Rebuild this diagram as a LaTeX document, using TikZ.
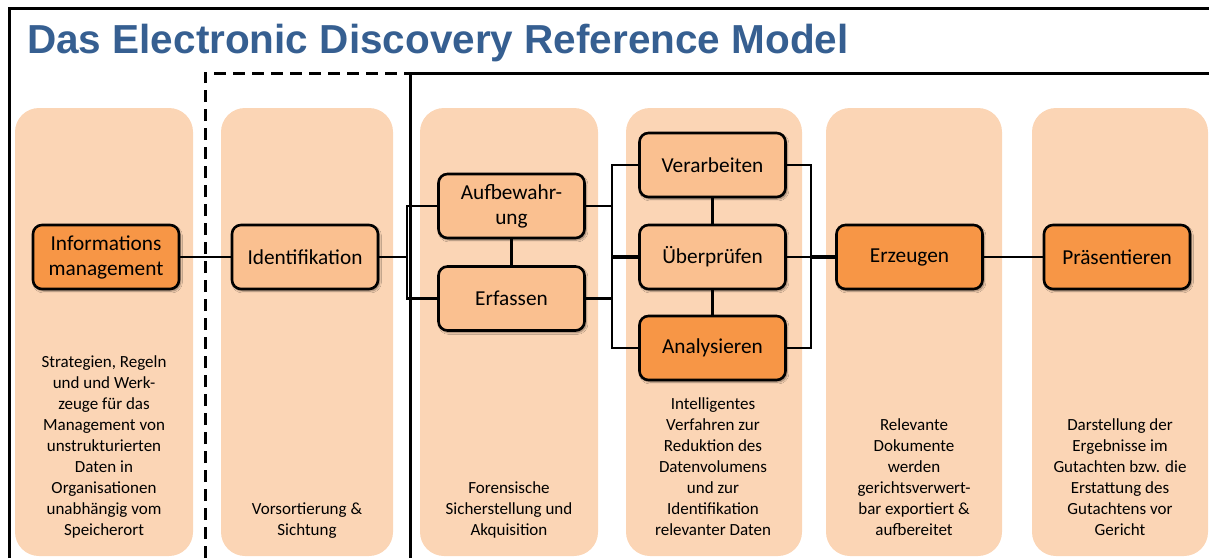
\documentclass[tikz,border=0pt]{standalone}
\usepackage{fontspec}
\setmainfont{Carlito}
\newfontfamily\titlefont{Liberation Sans}
\usetikzlibrary{shadows.blur}

\definecolor{peach}{HTML}{FBD5B5}
\definecolor{lightorange}{HTML}{FAC090}
\definecolor{darkorange}{HTML}{F79646}
\definecolor{titleblue}{HTML}{365F91}

\tikzset{
  column/.style={fill=peach, draw=none, rounded corners=24pt},
  frameline/.style={line width=3pt, draw=black},
  box/.style={draw=black, line width=2.6pt, rounded corners=9pt,
    minimum width=146pt, minimum height=64pt, inner sep=0pt, align=center,
    font=\fontsize{21.3}{25}\selectfont,
    blur shadow={shadow xshift=1.5pt, shadow yshift=-2pt, shadow blur steps=6, shadow opacity=45}},
  lightbox/.style={box, fill=lightorange},
  darkbox/.style={box, fill=darkorange},
  link/.style={line width=2.4pt, draw=black},
  mainlink/.style={line width=4pt, draw=black},
  desc/.style={anchor=south, inner sep=0pt, align=center,
    font=\fontsize{17}{21}\selectfont},
}

\begin{document}
\begin{tikzpicture}[x=1pt, y=-1pt]
\useasboundingbox (0,0) rectangle (1209,558);

% phase columns
\fill[column] (15,108) rectangle (193,556);
\fill[column] (221,108) rectangle (393,556);
\fill[column] (420,108) rectangle (598,556);
\fill[column] (626,108) rectangle (802,556);
\fill[column] (826,108) rectangle (1002,556);
\fill[column] (1032,108) rectangle (1208,556);

% outer frame and the two process regions
\draw[frameline] (9,558) -- (9,8) -- (1209,8);
\draw[frameline, dash pattern=on 12pt off 7pt] (205,558) -- (205,73) -- (410,73);
\draw[frameline] (410,558) -- (410,73) -- (1209,73);

% title
\node[anchor=base west, inner sep=0pt, text=titleblue,
      font=\titlefont\bfseries\fontsize{40.5}{44}\selectfont]
  (title) at (27,53) {Das Electronic Discovery Reference Model};

% process steps
\node[darkbox]  (info)   at (106,257)   {Informations\\management};
\node[lightbox] (ident)  at (305,257)   {Identifikation};
\node[lightbox] (aufb)   at (511.5,206) {Aufbewahr-\\ung};
\node[lightbox] (erf)    at (511.5,298.5) {Erfassen};
\node[lightbox] (verarb) at (712.5,165) {Verarbeiten};
\node[lightbox] (ueber)  at (712.5,257) {Überprüfen};
\node[darkbox]  (analys) at (712.5,348) {Analysieren};
\node[darkbox]  (erzeug) at (909.5,257) {Erzeugen};
\node[darkbox]  (praes)  at (1117,257)  {Präsentieren};

% bracket junctions
\coordinate (lb) at (407,257);
\coordinate (mb) at (612,257);
\coordinate (rb) at (811,257);

% connectors
\draw[link] (info) -- (ident);
\draw[link] (ident.east) -- (lb);
\draw[link] (aufb.west) -- (aufb.west -| lb) -- (erf.west -| lb) -- (erf.west);
\draw[link] (aufb) -- (erf);
\draw[link] (aufb.east) -- (aufb.east -| mb);
\draw[link] (erf.east) -- (erf.east -| mb);
\draw[link] (verarb.west) -- (verarb.west -| mb) -- (analys.west -| mb) -- (analys.west);
\draw[mainlink] (mb) -- (ueber.west);
\draw[link] (verarb) -- (ueber);
\draw[link] (ueber) -- (analys);
\draw[link] (verarb.east) -- (verarb.east -| rb) -- (analys.east -| rb) -- (analys.east);
\draw[link] (ueber.east) -- (rb);
\draw[mainlink] (rb) -- (erzeug.west);
\draw[link] (erzeug) -- (praes);

% descriptions
\node[desc] (d1) at (104,542) {Strategien, Regeln\\und und Werk-\\zeuge für das\\Management von\\unstrukturierten\\Daten in\\Organisationen\\unabhängig vom\\Speicherort\strut};
\node[desc] (d2) at (307,542) {Vorsortierung \&\\Sichtung\strut};
\node[desc] (d3) at (509,542) {Forensische\\Sicherstellung und\\Akquisition\strut};
\node[desc] (d4) at (713,542) {Intelligentes\\Verfahren zur\\Reduktion des\\Datenvolumens\\und zur\\Identifikation\\relevanter Daten\strut};
\node[desc] (d5) at (914,542) {Relevante\\Dokumente\\werden\\gerichtsverwert-\\bar exportiert \&\\aufbereitet\strut};
\node[desc] (d6) at (1120,542) {Darstellung der\\Ergebnisse im\\Gutachten bzw. die\\Erstattung des\\Gutachtens vor\\Gericht\strut};
\end{tikzpicture}
\end{document}
